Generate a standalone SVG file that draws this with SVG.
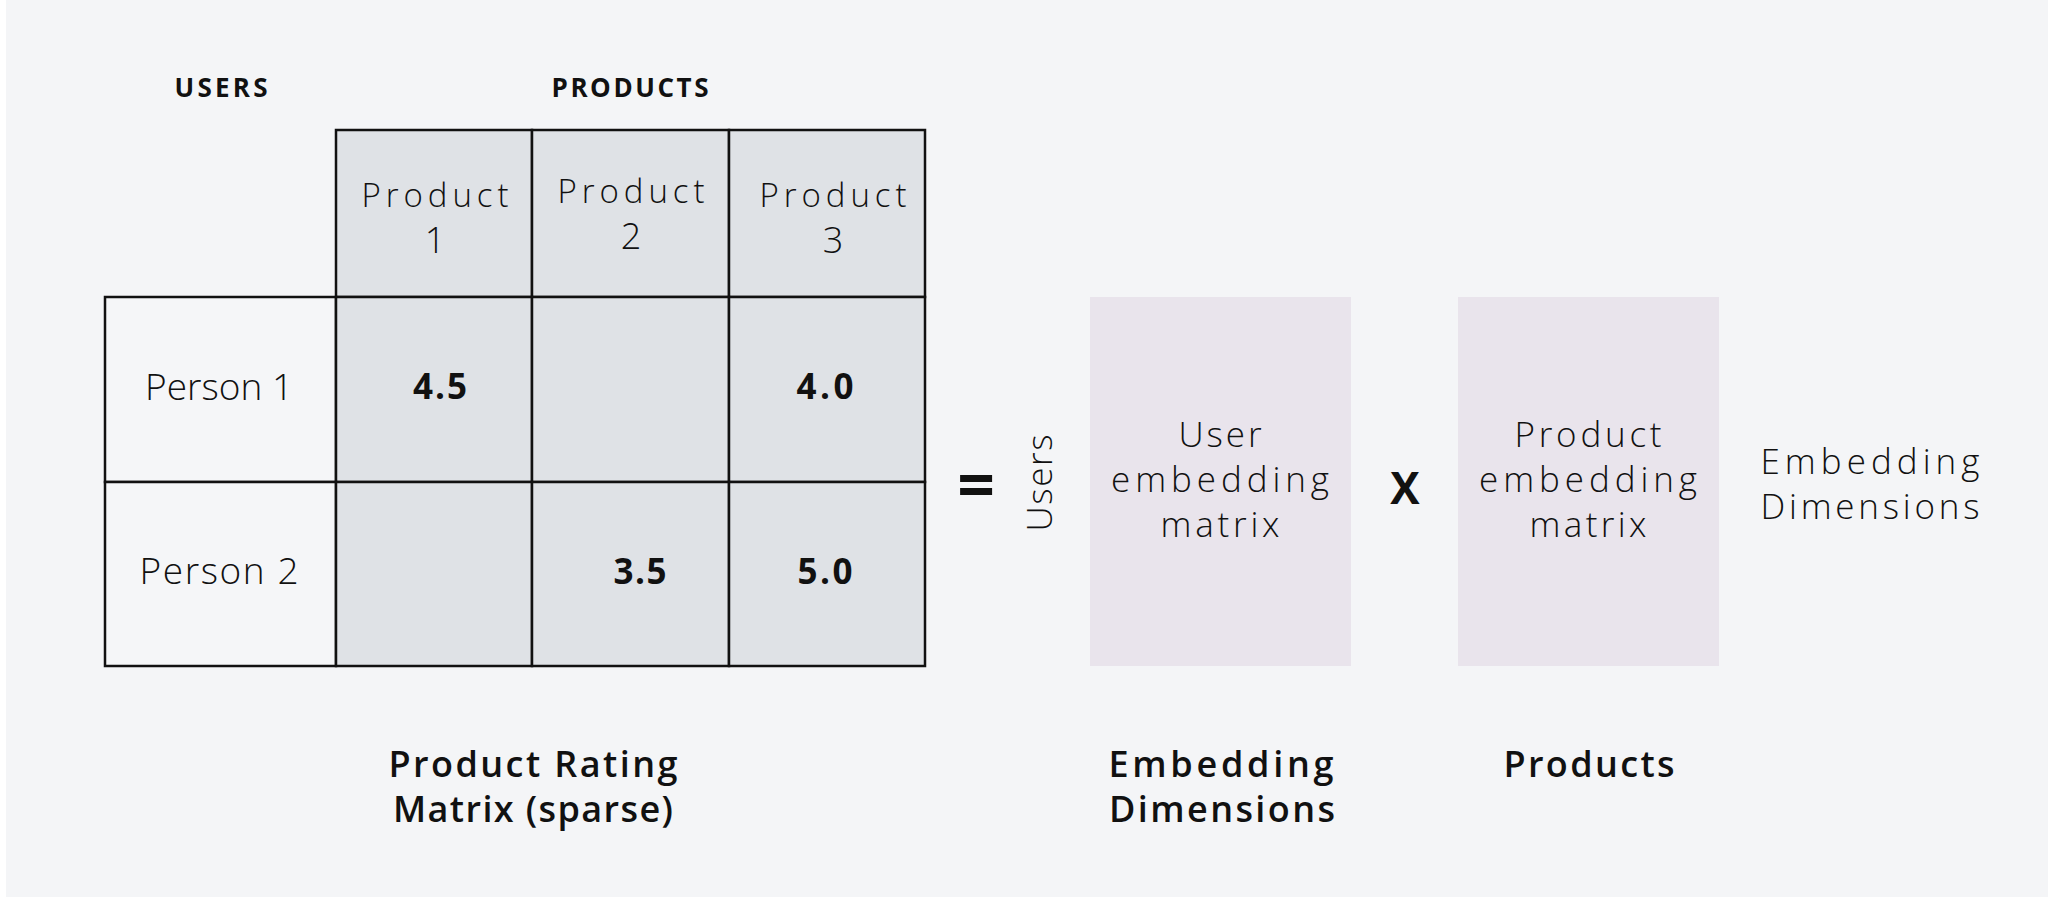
<svg xmlns="http://www.w3.org/2000/svg" width="2060" height="902" viewBox="0 0 2060 902">
  <style>
    .reg { font-family: "Open Sans", "Liberation Sans", sans-serif; font-weight: 300; fill: #111; }
    .bold { font-family: "Open Sans", "Liberation Sans", sans-serif; font-weight: 700; fill: #111; }
    .semi { font-family: "Open Sans", "Liberation Sans", sans-serif; font-weight: 600; fill: #111; }
    .cellg { fill: #dfe2e6; stroke: #111; stroke-width: 2.5; }
    .cellw { fill: #f5f6f8; stroke: #111; stroke-width: 2.5; }
    .emb { fill: #e9e4ec; }
    text { text-anchor: middle; }
  </style>
  <rect x="0" y="0" width="2060" height="902" fill="#ffffff"/>
  <rect x="6" y="0" width="2042" height="897" fill="#f4f5f7"/>

  <g id="header-labels">
    <text class="bold" x="221" y="97" font-size="26" textLength="93">USERS</text>
    <text class="bold" x="630" y="97" font-size="26" textLength="157">PRODUCTS</text>
  </g>

  <g id="rating-matrix">
    <rect class="cellg" x="336" y="130" width="196" height="167"/>
    <rect class="cellg" x="532" y="130" width="197" height="167"/>
    <rect class="cellg" x="729" y="130" width="196" height="167"/>
    <rect class="cellw" x="105" y="297" width="231" height="185"/>
    <rect class="cellg" x="336" y="297" width="196" height="185"/>
    <rect class="cellg" x="532" y="297" width="197" height="185"/>
    <rect class="cellg" x="729" y="297" width="196" height="185"/>
    <rect class="cellw" x="105" y="482" width="231" height="184"/>
    <rect class="cellg" x="336" y="482" width="196" height="184"/>
    <rect class="cellg" x="532" y="482" width="197" height="184"/>
    <rect class="cellg" x="729" y="482" width="196" height="184"/>

    <text class="reg" font-size="33"><tspan x="435" y="207" textLength="147">Product</tspan><tspan x="435" y="253" font-size="36">1</tspan></text>
    <text class="reg" font-size="33"><tspan x="631" y="203" textLength="147">Product</tspan><tspan x="631" y="249" font-size="36">2</tspan></text>
    <text class="reg" font-size="33"><tspan x="833" y="207" textLength="147">Product</tspan><tspan x="833" y="253" font-size="36">3</tspan></text>

    <text class="reg" x="219" y="400" font-size="37" textLength="148">Person 1</text>
    <text class="reg" x="219" y="584" font-size="37" textLength="159">Person 2</text>

    <text class="bold" x="440" y="399" font-size="35" textLength="54">4.5</text>
    <text class="bold" x="825" y="399" font-size="35" textLength="57">4.0</text>
    <text class="bold" x="640" y="584" font-size="35" textLength="53">3.5</text>
    <text class="bold" x="825" y="584" font-size="35" textLength="55">5.0</text>
  </g>

  <g id="equals">
    <text class="bold" x="976" y="509" font-size="66">=</text>
  </g>

  <g id="users-label">
    <text class="reg" transform="translate(1052,483) rotate(-90)" x="0" y="0" font-size="35" textLength="97">Users</text>
  </g>

  <g id="user-embedding">
    <rect class="emb" x="1090" y="297" width="261" height="369"/>
    <text class="reg" font-size="35"><tspan x="1220" y="447" textLength="83">User</tspan><tspan x="1220" y="492" textLength="218">embedding</tspan><tspan x="1220" y="537" textLength="119">matrix</tspan></text>
  </g>

  <g id="times">
    <text class="bold" x="1405" y="504" font-size="44">X</text>
  </g>

  <g id="product-embedding">
    <rect class="emb" x="1458" y="297" width="261" height="369"/>
    <text class="reg" font-size="35"><tspan x="1588" y="447" textLength="147">Product</tspan><tspan x="1588" y="492" textLength="218">embedding</tspan><tspan x="1588" y="537" textLength="117">matrix</tspan></text>
  </g>

  <g id="embedding-dimensions-right">
    <text class="reg" font-size="35"><tspan x="1870" y="474" textLength="219">Embedding</tspan><tspan x="1870" y="519" textLength="219">Dimensions</tspan></text>
  </g>

  <g id="bottom-labels">
    <text class="semi" font-size="36"><tspan x="533" y="777" textLength="289">Product Rating</tspan><tspan x="533" y="822" textLength="280">Matrix (sparse)</tspan></text>
    <text class="semi" font-size="36"><tspan x="1221" y="777" textLength="225">Embedding</tspan><tspan x="1222" y="822" textLength="226">Dimensions</tspan></text>
    <text class="semi" x="1589" y="777" font-size="36" textLength="171">Products</text>
  </g>

  <g id="connectors"></g>
</svg>
